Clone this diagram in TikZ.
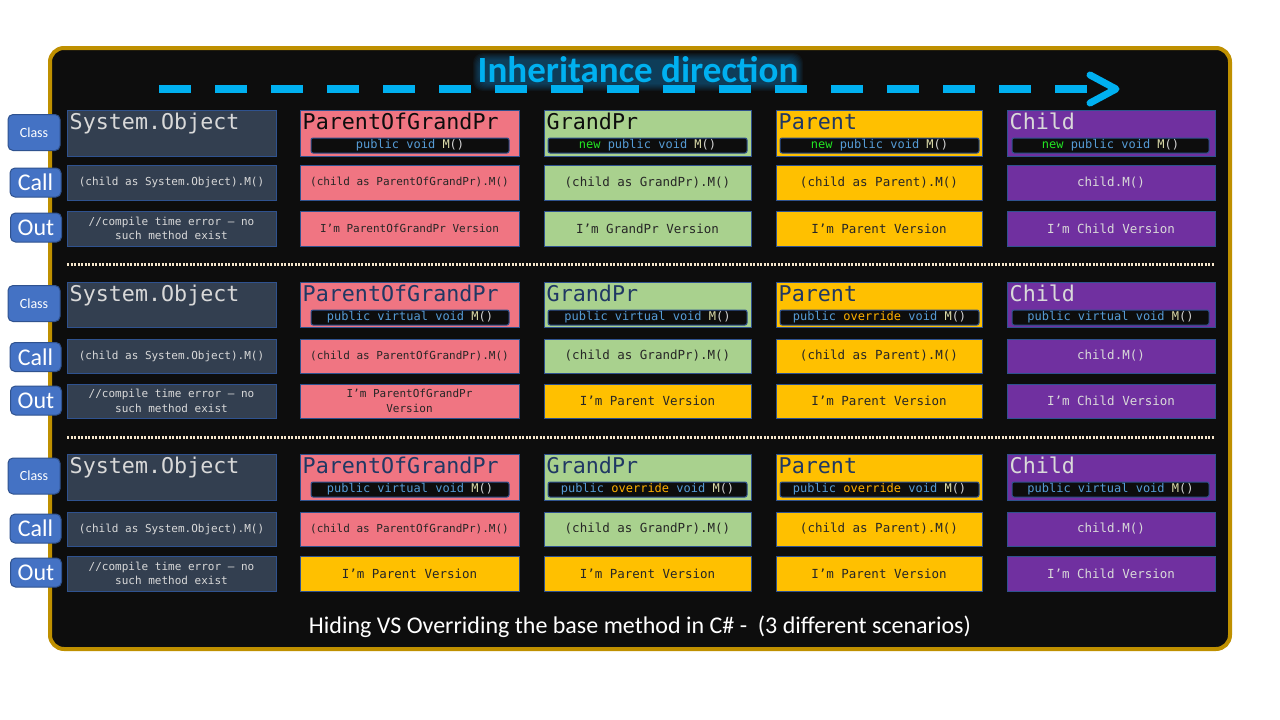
\documentclass[tikz,border=0pt]{standalone}
\usepackage{fontspec}
\setmainfont{Carlito}
\newfontfamily\monof{DejaVu Sans Mono}
\definecolor{framec}{HTML}{BF9000}
\definecolor{bgc}{HTML}{0D0D0D}
\definecolor{arrowc}{HTML}{00B0F0}
\definecolor{glowc}{HTML}{1C7FC0}
\definecolor{slatec}{HTML}{333F50}
\definecolor{pinkc}{HTML}{F07582}
\definecolor{greenc}{HTML}{A9D18E}
\definecolor{goldc}{HTML}{FFC000}
\definecolor{purplec}{HTML}{7030A0}
\definecolor{bordc}{HTML}{2F528F}
\definecolor{lblc}{HTML}{4472C4}
\definecolor{lightt}{HTML}{D9D9D9}
\definecolor{darkt}{HTML}{262626}
\definecolor{navyt}{HTML}{203864}
\definecolor{blackt}{HTML}{0D0D0D}
\definecolor{kwc}{HTML}{569CD6}
\definecolor{newc}{HTML}{22E622}
\definecolor{ovc}{HTML}{FFB000}
\definecolor{mc}{HTML}{DCDCAA}
\definecolor{pc}{HTML}{D4D4D4}
\definecolor{sepc}{HTML}{F5E6CC}
\newcommand\kw[1]{\textcolor{kwc}{#1}}
\newcommand\nw[1]{\textcolor{newc}{#1}}
\newcommand\ov[1]{\textcolor{ovc}{#1}}
\newcommand\mm{\textcolor{mc}{M}\textcolor{pc}{()}}
\newcommand\mkbox[7]{%
  \pgfmathsetmacro\bcx{(#2+#4)/2}\pgfmathsetmacro\bcy{(#3+#5)/2}%
  \pgfmathsetmacro\bww{#4-#2}\pgfmathsetmacro\bhh{#5-#3}%
  \node[cell,#6,minimum width=\bww pt,minimum height=\bhh pt] (#1) at (\bcx,\bcy) {#7};}
\newcommand\classbox[8]{%
  \mkbox{#1}{#2}{#3}{#4}{#5}{fill=#6}{}%
  \node[ttl,text=#7,anchor=base west] (#1t) at (#2+2.5,#3+19.5) {#8};}
\newcommand\codestrip[5]{%
  \pgfmathsetmacro\scx{(#2+#3)/2}\pgfmathsetmacro\sww{#3-#2}%
  \node[strip,minimum width=\sww pt] (#1) at (\scx,#4) {#5};}
\begin{document}
\begin{tikzpicture}[x=1pt,y=-1pt,
  cell/.style={draw=bordc,line width=0.8pt,inner sep=0pt,align=center,text=darkt,
    font=\monof\fontsize{12.5}{15}\selectfont},
  sm/.style={font=\monof\fontsize{11}{14.5}\selectfont},
  ttl/.style={inner sep=0pt,font=\monof\fontsize{21.7}{24}\selectfont},
  strip/.style={draw=bordc,fill=bgc,rounded corners=2pt,line width=1pt,inner sep=0pt,
    minimum height=15pt,font=\monof\fontsize{12}{14}\selectfont},
  lbl/.style={draw=bordc,fill=lblc,rounded corners=5pt,text=white,line width=1pt,inner sep=0pt},
  lblsm/.style={lbl,minimum width=52pt,minimum height=36pt,font=\fontsize{14}{16}\selectfont},
  lblbig/.style={lbl,minimum width=51pt,minimum height=29pt,font=\fontsize{24}{26}\selectfont},
  sep/.style={draw=sepc,line width=3pt,dash pattern=on 2pt off 1.5pt},
  titlef/.style={inner sep=0pt,font=\bfseries\fontsize{37}{40}\selectfont}
]
\useasboundingbox (0,0) rectangle (1280,720);
\fill[white] (0,0) rectangle (1280,720);
\draw[framec,fill=bgc,line width=4pt,rounded corners=14pt] (50,48) rectangle (1230,649);

% soft glow behind the title
\foreach \k in {0,1,...,7}{
  \fill[glowc,opacity=0.07,rounded corners=10pt] (480-\k,60-\k) rectangle (796+\k,84+\k);
}

% dashed inheritance arrow
\coordinate (arrS) at (159,89);
\coordinate (arrE) at (1087,89);
\coordinate (chA) at (1090,75);
\coordinate (chT) at (1116,89);
\coordinate (chB) at (1090,103);
\draw[arrowc,line width=8pt,dash pattern=on 32pt off 24pt] (arrS) -- (arrE);
\draw[arrowc,line width=7pt,line cap=round,line join=round] (chA) -- (chT) -- (chB);

\node[titlef,text=arrowc,anchor=base] (title) at (638,82) {Inheritance direction};

% ---------- Scenario 1 ----------
\node[lblsm] (lc1) at (34,132.5) {Class};
\node[lblbig] (lk1) at (35.5,182.5) {Call};
\node[lblbig] (lo1) at (36,227.5) {Out};

\classbox{a0}{67}{110}{276}{156}{slatec}{lightt}{System.Object}
\classbox{a1}{300}{110}{519}{156}{pinkc}{blackt}{ParentOfGrandPr}
\codestrip{a1s}{311}{509}{145.5}{\kw{public void} \mm}
\classbox{a2}{544}{110}{751}{156}{greenc}{blackt}{GrandPr}
\codestrip{a2s}{548}{747}{145.5}{\nw{new} \kw{public void} \mm}
\classbox{a3}{776}{110}{982}{156}{goldc}{navyt}{Parent}
\codestrip{a3s}{780}{979}{145.5}{\nw{new} \kw{public void} \mm}
\classbox{a4}{1007}{110}{1215}{156}{purplec}{lightt}{Child}
\codestrip{a4s}{1012}{1209}{145.5}{\nw{new} \kw{public void} \mm}

\mkbox{b0}{67}{165}{276}{200}{fill=slatec,text=lightt,sm}{(child as System.Object).M()}
\mkbox{b1}{300}{165}{519}{200}{fill=pinkc,sm}{(child as ParentOfGrandPr).M()}
\mkbox{b2}{544}{165}{751}{200}{fill=greenc}{(child as GrandPr).M()}
\mkbox{b3}{776}{165}{982}{200}{fill=goldc}{(child as Parent).M()}
\mkbox{b4}{1007}{165}{1215}{200}{fill=purplec,text=lightt}{child.M()}

\mkbox{c0}{67}{211}{276}{246}{fill=slatec,text=lightt,sm}{//compile time error – no\\such method exist}
\mkbox{c1}{300}{211}{519}{246}{fill=pinkc,sm}{I’m ParentOfGrandPr Version}
\mkbox{c2}{544}{211}{751}{246}{fill=greenc}{I’m GrandPr Version}
\mkbox{c3}{776}{211}{982}{246}{fill=goldc}{I’m Parent Version}
\mkbox{c4}{1007}{211}{1215}{246}{fill=purplec,text=lightt}{I’m Child Version}

\coordinate (s1a) at (67,264);
\coordinate (s1b) at (1215,264);
\draw[sep] (s1a) -- (s1b);

% ---------- Scenario 2 ----------
\node[lblsm] (lc2) at (34,303.5) {Class};
\node[lblbig] (lk2) at (35.5,357) {Call};
\node[lblbig] (lo2) at (36,400.5) {Out};

\classbox{d0}{67}{282}{276}{327}{slatec}{lightt}{System.Object}
\classbox{d1}{300}{282}{519}{327}{pinkc}{navyt}{ParentOfGrandPr}
\codestrip{d1s}{311}{509}{317.5}{\kw{public virtual void} \mm}
\classbox{d2}{544}{282}{751}{327}{greenc}{navyt}{GrandPr}
\codestrip{d2s}{548}{747}{317.5}{\kw{public virtual void} \mm}
\classbox{d3}{776}{282}{982}{327}{goldc}{navyt}{Parent}
\codestrip{d3s}{780}{979}{317.5}{\kw{public} \ov{override} \kw{void} \mm}
\classbox{d4}{1007}{282}{1215}{327}{purplec}{lightt}{Child}
\codestrip{d4s}{1012}{1209}{317.5}{\kw{public virtual void} \mm}

\mkbox{e0}{67}{339}{276}{373}{fill=slatec,text=lightt,sm}{(child as System.Object).M()}
\mkbox{e1}{300}{339}{519}{373}{fill=pinkc,sm}{(child as ParentOfGrandPr).M()}
\mkbox{e2}{544}{339}{751}{373}{fill=greenc}{(child as GrandPr).M()}
\mkbox{e3}{776}{339}{982}{373}{fill=goldc}{(child as Parent).M()}
\mkbox{e4}{1007}{339}{1215}{373}{fill=purplec,text=lightt}{child.M()}

\mkbox{f0}{67}{384}{276}{418}{fill=slatec,text=lightt,sm}{//compile time error – no\\such method exist}
\mkbox{f1}{300}{384}{519}{418}{fill=pinkc,sm}{I’m ParentOfGrandPr\\Version}
\mkbox{f2}{544}{384}{751}{418}{fill=goldc}{I’m Parent Version}
\mkbox{f3}{776}{384}{982}{418}{fill=goldc}{I’m Parent Version}
\mkbox{f4}{1007}{384}{1215}{418}{fill=purplec,text=lightt}{I’m Child Version}

\coordinate (s2a) at (67,437);
\coordinate (s2b) at (1215,437);
\draw[sep] (s2a) -- (s2b);

% ---------- Scenario 3 ----------
\node[lblsm] (lc3) at (34,476) {Class};
\node[lblbig] (lk3) at (35.5,528.5) {Call};
\node[lblbig] (lo3) at (36,572.5) {Out};

\classbox{g0}{67}{454}{276}{500}{slatec}{lightt}{System.Object}
\classbox{g1}{300}{454}{519}{500}{pinkc}{navyt}{ParentOfGrandPr}
\codestrip{g1s}{311}{509}{489.5}{\kw{public virtual void} \mm}
\classbox{g2}{544}{454}{751}{500}{greenc}{navyt}{GrandPr}
\codestrip{g2s}{548}{747}{489.5}{\kw{public} \ov{override} \kw{void} \mm}
\classbox{g3}{776}{454}{982}{500}{goldc}{navyt}{Parent}
\codestrip{g3s}{780}{979}{489.5}{\kw{public} \ov{override} \kw{void} \mm}
\classbox{g4}{1007}{454}{1215}{500}{purplec}{lightt}{Child}
\codestrip{g4s}{1012}{1209}{489.5}{\kw{public virtual void} \mm}

\mkbox{h0}{67}{512}{276}{546}{fill=slatec,text=lightt,sm}{(child as System.Object).M()}
\mkbox{h1}{300}{512}{519}{546}{fill=pinkc,sm}{(child as ParentOfGrandPr).M()}
\mkbox{h2}{544}{512}{751}{546}{fill=greenc}{(child as GrandPr).M()}
\mkbox{h3}{776}{512}{982}{546}{fill=goldc}{(child as Parent).M()}
\mkbox{h4}{1007}{512}{1215}{546}{fill=purplec,text=lightt}{child.M()}

\mkbox{i0}{67}{556}{276}{591}{fill=slatec,text=lightt,sm}{//compile time error – no\\such method exist}
\mkbox{i1}{300}{556}{519}{591}{fill=goldc}{I’m Parent Version}
\mkbox{i2}{544}{556}{751}{591}{fill=goldc}{I’m Parent Version}
\mkbox{i3}{776}{556}{982}{591}{fill=goldc}{I’m Parent Version}
\mkbox{i4}{1007}{556}{1215}{591}{fill=purplec,text=lightt}{I’m Child Version}

% caption
\node[text=white,inner sep=0pt,font=\fontsize{24}{27}\selectfont] (caption) at (640,627) {Hiding VS Overriding the base method in C\# -\ \ (3 different scenarios)};
\end{tikzpicture}
\end{document}
